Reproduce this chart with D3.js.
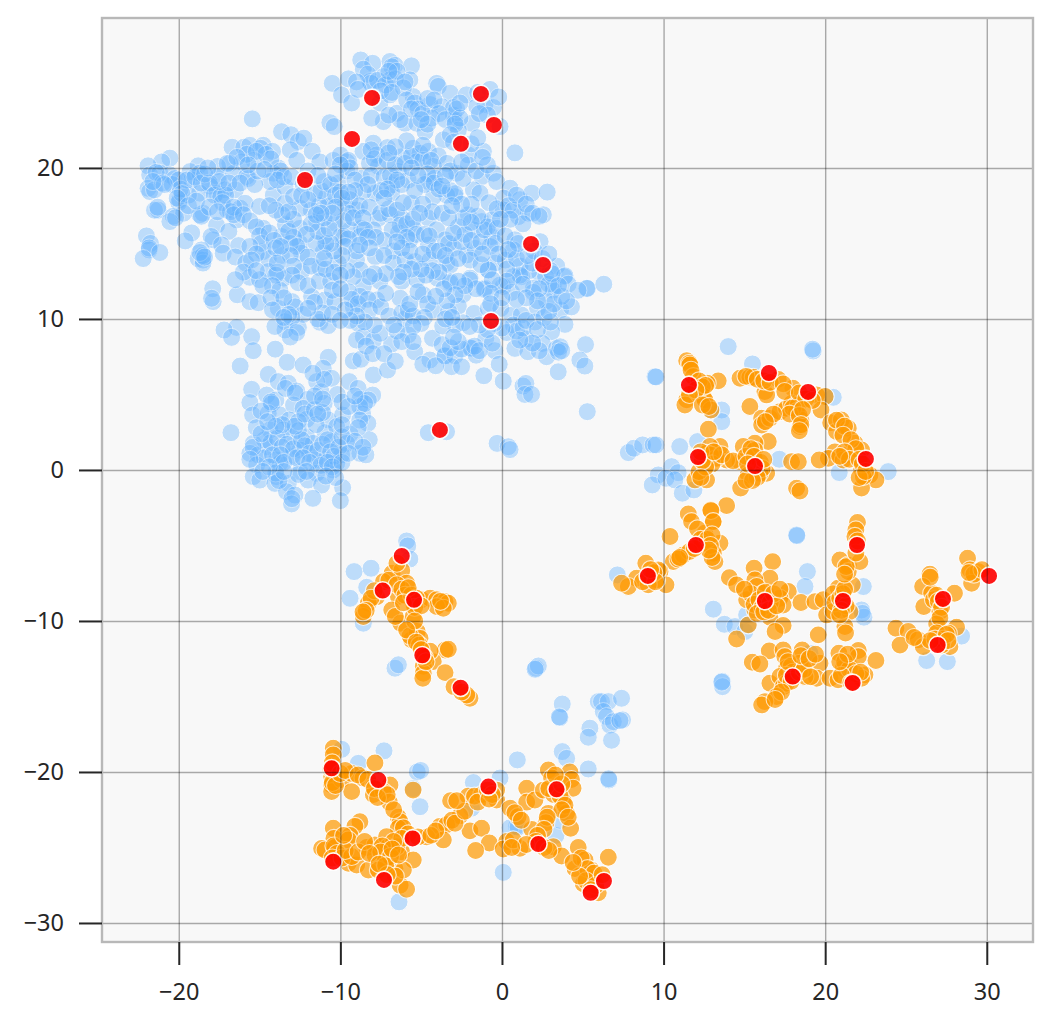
<!DOCTYPE html>
<html>
<head>
<meta charset="utf-8">
<style>
  body { margin: 0; background: #fff; }
  svg { display: block; }
</style>
<script src="https://d3js.org/d3.v7.min.js"></script>
</head>
<body>
<div id="chart"></div>
<script>
// tick labels
var xTicks = [-20, -10, 0, 10, 20, 30];
var yTicks = [-30, -20, -10, 0, 10, 20];

// blue points
var blueWing = [[-15.45,23.25],[-13.64,22.4],[-13.06,22.2],[-12.6,21.75],[-12.26,21.97],[-10.5,25.6],[-10.65,23],[-10.38,22.74],[-9.93,24.84],[-16.7,21.37],[-15.97,21.37],[-15.6,21.5],[-14.77,21.5],[-14.94,21.3],[-14.2,21.1],[-13.1,21.2],[-11.74,21.1],[-11.27,20.4],[-12.7,20.5],[-15.35,20.5],[-16.1,20.4],[-16.84,20.3],[-17.6,20.1],[-18.8,20.14],[-20.55,20.65],[-21.06,20.4],[-21.9,20.14],[-21.8,19.54],[-21.17,19.65],[-20.55,19.54],[-20.24,19.3],[-21.9,18.65],[-21.8,18.44],[-21.5,18.55],[-19.3,19.76],[-19.2,19.2],[-18.7,19.65],[-17.56,19.43],[-16.6,19.65],[-15.8,19.43],[-15.7,19.3],[-18.07,18.8],[-17.66,18.33],[-17.15,18.55],[-18.7,18.33],[-16.5,18.55],[-19.93,17.9],[-20,17.7],[-19.4,18.2],[-21.27,17.2],[-21.5,17.2],[-20.34,16.8],[-19.7,17],[-20.55,16.45],[-18.5,17],[-18.7,16.9],[-17,17.2],[-16.2,17.33],[-15.9,17.66],[-16.4,16.56],[-15,17.45],[-17.66,16.2],[-16.9,15.8],[-19.2,15.7],[-19.6,15.17],[-17.87,15.24],[-18,15.46],[-17.35,14.9],[-22,15.5],[-21.75,15],[-21.83,14.57],[-21.83,14.7],[-21.17,14.4],[-22.2,14],[-16.3,14.86],[-17.25,14.35],[-16.5,14.1],[-15.85,13.7],[-18.6,14.57],[-18.8,14],[-18.5,13.9],[-18.5,13.7],[-14.8,14.46],[-14.46,14],[-13.64,14.2],[-14.46,13.14],[-15.6,12.76],[-15,12.6],[-13.5,12.7],[-12.4,13.14],[-11.27,13.4],[-10.13,13.7],[-14.77,16],[-13.64,15.46],[-12.5,15],[-11.06,14.46],[-12.4,14.35],[-13.4,16.25],[-12.5,16],[-11.47,16.45],[-10.34,16.34],[-10,15.46],[-11.8,17.2],[-10.75,17.45],[-10.85,18.1],[-10.13,19],[-14.15,18.2],[-13.43,18.76],[-13.85,20],[-14.15,19.65],[-14.36,19.1],[-12.5,17.33],[-13.43,17.66],[-9.6,20.4],[-10.44,20.5],[-10,20.85]];

var blueTop = [[-8.74,27.15],[-8,26.93],[-6.93,27.05],[-6.62,26.8],[-5.6,26.76],[-8.58,26.54],[-6.82,26.7],[-9.5,25.9],[-8.16,25.72],[-7.34,26.05],[-6.93,25.83],[-5.7,25.83],[-4.04,25.6],[-3.94,25.4],[-3.2,24.95],[-2.2,24.84],[-0.74,25.2],[-1.05,24.2],[-0.53,24],[-1.56,24.06],[-9.3,24.3],[-7.55,24.3],[-6.93,24.84],[-5.5,24.73],[-4.45,24.2],[-3.73,24.06],[-6.5,23.62],[-7.34,23.07],[-8.06,23.3],[-6,22.96],[-5.28,22.96],[-4.76,22.4],[-4.35,23.3],[-3,23.5],[-2.9,23.07],[-1.87,22.96],[-0.12,22.74],[-3,24],[-2.7,22.5],[-3.63,21.86],[-1.15,21.1],[0.8,21],[-2.08,20.86],[-7.96,21.64],[-7.09,21.35],[-8.6,21.1],[-7.75,20.86],[-9.5,20.5],[-6.2,20.75],[-5.5,21.3],[-5.07,20.97],[-4.55,21.1],[-3.94,20.8],[-5.28,20.4],[-4.24,20.1],[-2.8,19.65],[-2.08,20.2],[-1.25,19.43],[-0.53,19.65],[-7.65,20.1],[-8.68,19.32],[-6.82,18.88],[-5.8,19.2],[-4.55,19.1],[-4.14,19.32],[-6.41,19.76],[-7.85,18.33],[-8.58,18.44],[-6.82,18.33],[-2.9,18.1],[-3.42,18.2],[-4.24,18.1],[-1.77,18.55],[-1.36,18.33],[-0.33,19.1],[0.5,18.66],[0.1,18],[1.12,17.9],[1.84,18.33],[2.8,18.4],[0.09,17.22],[1.02,16.78],[1.63,17],[2.56,16.9],[-5.6,17.66],[-9.7,17.55],[-9,17.22],[-7.65,16.67],[-6.93,16.9],[-6.2,16.67],[-8.68,16],[-9.4,15.9],[-7.96,15.9],[-5.48,16],[-4.56,16.67],[-4.04,15.9],[-2.08,16.9],[-1.25,16.45],[-0.63,16.56],[-0.63,15.46],[-1.77,15.9],[-2.7,16.1],[-6.4,15.7],[-5.7,15.24],[-4.55,14.9],[-3.52,15.24],[-3,14.68],[-2.18,14.24],[-1.67,14.68],[-0.74,14.8],[2.36,15.12],[0.8,15.24],[0.7,14.57],[-9.8,15.46],[-8.78,15.46],[-6.72,14.5],[-7.85,14.13],[-9,13.9],[-8.78,13.25],[-6.72,13.7],[-6,13.9],[-5.38,13.8],[-4.45,13.9],[-3.42,13.7],[-1.97,13.9],[-0.84,13.25],[-0.43,13.7],[0.2,13.9],[1.12,13.5],[1.22,12.8],[2.35,13],[3.39,13.5],[3.84,12.8],[3.18,12.15],[5.24,12.03],[-7.55,12.5],[-8.58,12.15],[-6.2,12.5],[-5.27,12.6],[-4,12.7],[-3.2,12.36],[-1.97,12.7],[-1.05,12.03],[0.07,12.15],[1.94,12.03],[0.7,12.8]];

var blueCentre = [[-17.9,12],[-17.87,11.15],[-17.97,11.37],[-16.38,11.6],[-15.6,11.15],[-15.08,11.08],[-13.74,11.9],[-13.84,10.7],[-13,11.15],[-12.8,10.8],[-11.78,11.48],[-10.95,11.26],[-10.34,11.15],[-9.2,10.8],[-8.79,11.5],[-7.76,11.26],[-6.3,11.37],[-4.87,11.6],[-4.25,10.6],[-13.43,9.82],[-13.43,9.27],[-14.05,9.5],[-12.6,9.44],[-11.26,9.78],[-10.75,9.56],[-8.89,9.7],[-16.42,9.44],[-17.2,9.27],[-16.73,8.78],[-15.49,8.83],[-15.39,7.9],[-14.03,8],[-16.2,6.88],[-13.29,7.13],[-12.3,6.95],[-10.75,7.46],[-11.06,6.73],[-9.2,7.22],[-8.73,7.33],[-8.58,8.83],[-7.96,8.56],[-6.83,8.34],[-7.55,9.05],[-6,10],[-5.8,8.94],[-5.4,7.83],[-4.3,8.72],[-4.46,7.28],[-3.53,7.55],[-7.96,6.29],[-7.08,6.62],[-10.54,6.07],[-3.2,13.57],[-0.85,13.24],[-3.2,12.47],[-2,12.58],[-1.1,11.96],[-2.4,11.63],[-0.13,12.24],[0.6,11.76],[1.1,12.9],[1.94,11.76],[3.17,11.9],[3.9,12.86],[5.28,12.02],[6.3,12.3],[2.76,11.2],[3.63,10.6],[4.3,10.8],[2.2,10.7],[-2.7,10.85],[-3.3,10.5],[-1.72,10.37],[-0.85,10.7],[-0.07,10.7],[0.6,10.26],[1.2,10.26],[0.7,9.6],[2.04,9.8],[3.9,9.64],[3.07,9.15],[-2.4,9.75],[-2.87,9.6],[-3.67,9.53],[1.48,8.67],[-1,8.7],[-2,8.1],[-1.9,8.05],[-0.44,7.9],[0.8,8.05],[1.6,7.83],[2.5,8.38],[2.76,7.5],[3.38,8.05],[3.6,8.16],[5.17,8.3],[-3.53,7.56],[-2.9,7.56],[-1.6,7.6],[-3.12,6.84],[-2.5,6.84],[-0.17,7],[-1.12,6.24],[0.08,5.88],[3.48,6.5],[4.82,7.28],[5.13,6.88],[1.3,5.56],[1.48,5.73],[1.42,5],[1.83,5],[5.28,3.86],[-0.3,1.76],[0.39,1.54],[0.5,1.35]];

var blueLower = [[-14.46,6.33],[-13.84,5.85],[-13.22,5.74],[-11.47,5.85],[-9.45,5.85],[-8.9,5.4],[-15.49,5.34],[-12.7,5.23],[-14.56,4.96],[-11.2,5.18],[-10.19,5],[-15.6,4.46],[-13.99,4.63],[-14.25,4.37],[-12,4.68],[-11,4.41],[-8.79,4.68],[-8,4.96],[-8.27,4.63],[-15.43,3.64],[-14.46,3.75],[-13.74,3.64],[-12.9,4.3],[-12.3,4.08],[-13.16,3.31],[-12.09,3.35],[-10.75,3.31],[-9.86,3.64],[-8.62,3.7],[-8.3,3.09],[-16.77,2.47],[-14.36,2.65],[-13.02,2.2],[-12.09,2.2],[-10.95,2.47],[-10.23,2.87],[-9.4,2.38],[-8.21,2],[-15.39,1.76],[-14.46,1.54],[-13.53,2.65],[-12.5,1.32],[-11.68,1.76],[-10.54,1.87],[-9.6,1.76],[-15.6,1.1],[-15.08,1],[-13.95,0.66],[-13.02,0.88],[-11.57,0.66],[-10.95,0.66],[-9.92,1],[-8.79,1.1],[-8.42,1],[-15.18,0.33],[-13.74,0.44],[-10.23,0.44],[-10.44,0],[-15.39,-0.44],[-14.98,-0.67],[-13.95,-0.44],[-14.05,-0.89],[-12.5,-0.11],[-11.47,-0.22],[-12,-0.67],[-11.16,-1],[-9.86,-1.17],[-10,-2.03],[-13.22,-0.89],[-13.33,-1.44],[-12.81,-1.66],[-13.02,-2.25],[-11.7,-1.88],[-4.56,2.47],[-3.43,2.53]];

var blueRight = [[14,8.17],[15.5,7.02],[19.26,7.88],[19.22,8],[9.47,6.18],[9.53,6.16],[20.5,4.81],[20,4.86],[13.6,3.97],[12.93,3.97],[13.6,3.2],[7.82,1.15],[8.17,1.44],[8.7,1.66],[9.36,1.66],[9.53,1.66],[11,1.55],[12.1,1.88],[17.16,0.71],[20.87,-0.17],[23.9,-0.11],[9.67,-0.33],[10.5,0.22],[10.9,-0.18],[9.3,-0.99],[10.15,-0.55],[10.7,-0.66],[11.16,-1.54],[11.88,-1.32],[18.23,-4.3],[18.25,-4.35],[18.9,-6.73],[18.75,-7.72],[13.08,-9.22],[13.76,-10.22],[14.42,-10.37],[15.03,-10.7],[15.14,-9.6],[15.24,-10.26],[19.06,-12.14],[22.36,-7.72],[22.25,-9.27],[22.4,-9.75],[22.3,-9.5],[28.44,-11],[26.28,-12.62],[27.56,-12.69],[13.63,-14],[13.65,-14.35],[13.6,-14.05],[7.14,-6.95]];

var blueBottom = [[-5.9,-4.7],[-5.83,-5.03],[-5.7,-5.9],[-9.15,-6.73],[-8.1,-6.51],[-8.37,-7.77],[-9.4,-8.5],[-8.58,-10.15],[-6.62,-13.13],[-6.41,-12.9],[2.1,-13.13],[2.25,-12.98],[2.05,-13.2],[3.73,-15.5],[3.59,-16.4],[3.55,-16.35],[5.96,-15.34],[6.16,-15.34],[6.58,-15.34],[7.4,-15.12],[6.27,-16],[6.47,-16.33],[6.68,-16.9],[6.89,-16.67],[7.46,-16.55],[7.3,-16.6],[5.44,-17.1],[5.34,-17.7],[6.78,-17.9],[3.73,-18.65],[4,-19.1],[5.34,-19.8],[6.62,-20.53],[6.6,-20.45],[-9.92,-18.5],[-7.3,-18.6],[-8.89,-19.43],[-5.24,-20],[-5.03,-19.9],[-5.5,-21.1],[-5.07,-22.3],[-6.37,-28.6],[-1.77,-20.7],[-0.12,-20.4],[0.95,-19.2],[0.08,-26.65],[0.9,-23.6],[0.5,-23.7],[1,-23.65],[3.34,-24.2],[3.6,-23.2],[-1.88,-22.4]];

// second pass over the crowded parts of the blue mass
var blueDenseTop = [[-8.3,26.2],[-8.1,25.6],[-7.7,25.8],[-7.2,25.5],[-6.6,25.9],[-6.5,26.4],[-6.1,25.3],[-6,25.7],[-7,26.4],[-7.5,25.1],[-6.8,25],[-5.9,24.5],[-5.4,24.3],[-5.2,23.9],[-5.6,23.9],[-4.9,23.6],[-4.6,24.6],[-4.2,24.5],[-3.9,23.6],[-3.5,23.2],[-2.8,23.9],[-2.6,23.3],[-2.9,22.9],[-4.6,22.9],[-5,23.2],[-6.3,23.2],[-7,23.5],[-9,25.7],[-8.9,25.2]];

var blueDenseBand = [[-9.6,19.8],[-9.4,20],[-9.1,19.2],[-8.2,20.3],[-7.9,20.6],[-8.1,19.5],[-7.3,19.4],[-6.9,19.5],[-7.1,20.5],[-6.6,20.2],[-6,20.3],[-5.6,20.8],[-4.9,20.5],[-4.4,20.5],[-3.4,20.3],[-3.2,19.8],[-2.5,20.4],[-2.4,19.3],[-4.6,19.6],[-4.8,18.9],[-4.2,19],[-3.9,18.6],[-3.2,18.5],[-2.9,18.3],[-6.2,18.9],[-5.4,18.5],[-7.5,18.5],[-8.3,18.9],[-9.1,18.5],[-9.4,17.9],[-8.8,17.5],[-8.2,17.4],[-9.5,17],[-9.8,16.5],[-9.2,16.7],[-8.6,16.7],[-8.5,15.9],[-7.5,17],[-7,17.3],[-6.5,17.2],[-6.3,16.2],[-6.8,15.9],[-5.9,16.3],[-5.5,16.6],[-5.3,15.6],[-4.8,15.6],[-4.5,15.5],[-5.9,15.4],[-7.3,15.2],[-7.8,15.4],[-8.3,15.4],[-9.5,15.3],[-9.7,14.8],[-9,14.5],[-8.2,14.7],[-7.3,14.2],[-6.2,14.7],[-4.2,14.5],[-3.9,14.5],[-3.3,15],[-2.5,15.1],[-2.3,15.6],[-1.9,15.2],[-1.3,15.1],[-1.1,15.9],[-0.9,16.1],[-0.3,16],[-0.4,15],[-1.5,16.8],[-1.9,16.4],[-2.4,16.7],[-3,15.7],[-3.5,14.2],[-2.7,14],[-1.3,13.6],[-1.2,14.3],[-0.2,14.3],[0.3,13.3],[0.9,14],[1.7,13.2],[1.9,13.7],[2.7,12.8],[2.9,12.3],[3,13.2],[2.3,12],[1.3,12.3],[0.3,12.5],[-0.6,12.6],[-0.7,11.7],[-1.6,12],[-2.3,12.2],[-2.7,12.5],[-2.9,11.6],[-3.4,11.2],[-3.6,12],[-3.9,13.1],[-4.3,13.2],[-4.7,12.9],[-5,13.3],[-5.6,13.3],[-6.1,13.1],[-6.4,12.8],[-7.2,13],[-7.9,13],[-8.2,12.8],[-9.2,12.8],[-9.6,13.2],[-9.9,14.2],[-10.4,14.5],[-10.6,15],[-11,15.5],[-10.9,15],[-11.5,15],[-11.4,15.8],[-10.7,16],[-11,16.7],[-11.3,17.5],[-11.8,16.3],[-12.1,15.6],[-12.9,15.4],[-13.1,15],[-13.2,15.8],[-12.9,16.6],[-12.7,14.8],[-13.1,14.2],[-12,14.1],[-11.8,13.5],[-12.9,13.5],[-13,12.9],[-13.9,13.1],[-14,12.9],[-14.2,12.2],[-14.8,12.2],[-14.3,11.4],[-13.5,11.4],[-12.6,12.4],[-12,12.2],[-11.3,12.5],[-10.6,12.5],[-10.5,11.9],[-9.5,11.8],[-9.3,11.3],[-8.9,11],[-8.3,11.3],[-8.2,10.6],[-7.5,10.8],[-7.2,11.7],[-7,10.2],[-6.2,10.4],[-5.8,10.6],[-5.5,10.2],[-5.7,11],[-5.2,11.8],[-4.6,11],[-4.1,11.5],[-3.5,10],[-4.8,10.1],[-5,9.7],[-5.5,9.5],[-6.5,9.2],[-6.7,9.6],[-7.9,9.6],[-8.5,9.8],[-9,10.2],[-9.4,9.9],[-11.1,10.4],[-11.4,10],[-12.3,10.3],[-13,10.1],[-13.2,10.3],[-14.2,10.6],[-13.5,10.1],[-2.5,8],[-1.7,8.2],[-1.4,7.9],[0.3,9.1],[0.9,9.2],[1.3,9.4],[1.5,9.9],[2.6,10.1],[2.2,9.3],[3,9.8],[0,9.4],[2.3,7.9],[3.5,7.8],[3.7,7.9],[2.9,10.5],[3.2,11],[3.7,11.5],[2.2,11.2],[1.5,11.4],[0.9,11.3],[0,11.4],[-0.7,11],[-0.5,9.7]];

var blueDenseWing = [[-21.4,19.7],[-21,19],[-20.4,18.9],[-20,19.2],[-19.9,18.6],[-19.5,19.2],[-19,19.4],[-18.6,19],[-18.4,19.6],[-18.1,19],[-17.8,18.2],[-17.4,18.1],[-17.1,18.2],[-17.3,17.7],[-16.8,17.1],[-16.6,17.4],[-19.8,18.3],[-20.1,18],[-21.3,17.4],[-20.2,16.7],[-18.6,16.8],[-18.5,14.2],[-18.7,14.4],[-18.4,14.1],[-14.6,20.9],[-14.3,20.6],[-15.8,20.9],[-15.2,21.1],[-13.7,19.8],[-13.5,19.4],[-13.9,19.2],[-13,19.4],[-12.3,18.9],[-12,19.8],[-11.6,18.3],[-11.2,18.5],[-11,19.1],[-11.4,19.5],[-10.6,18.9],[-10.3,18.2],[-10,18.4],[-9.9,18],[-10.3,17.4],[-10.5,17],[-11.2,17],[-9.5,18.4],[-10,20.2],[-10.3,19.6]];

var blueDenseLower = [[-14.7,2],[-14.3,1.8],[-13.9,2.1],[-13.6,1.5],[-13.3,1.7],[-12.9,1.4],[-12.6,2.6],[-12.4,2],[-12.2,1.6],[-11.9,1.1],[-11.4,1.3],[-11.1,1.7],[-10.8,2],[-10.6,1.2],[-10.4,0.9],[-10.1,1.5],[-9.9,2.2],[-14.7,0.8],[-14.2,1],[-13.7,1],[-13.5,0.5],[-12.7,0.8],[-12.3,0.8],[-11.9,0.5],[-11.2,0.3],[-10.8,0.5],[-10.5,0.2],[-9.9,0.5],[-9.9,3],[-12.6,3.2],[-12.8,2.9],[-13.6,3],[-14,2.9],[-12.2,3.7],[-11.6,4],[-11.5,3],[-11.1,3.8],[-11.6,4.9],[-11.1,4.7],[-11.4,3.7],[-13.4,5.4],[-12.8,5.1],[-14,-0.2],[-13.8,-0.7],[-12.6,-0.3],[-8.8,4.2],[-8.5,4.4],[-8.8,3.3],[-14.3,4.5],[-15.4,1.5],[-15.6,0.7]];

// third pass, gaps still left after the first two
var blueFillWest = [[-17.5,19.1],[-16.9,19],[-16.2,19],[-15.3,18.9],[-15.1,19.8],[-14.7,19.9],[-17,20.3],[-16.4,20.7],[-15.7,20.2],[-18.2,20],[-20.9,18.9],[-21.6,19.1],[-19.4,17.5],[-18.9,17.8],[-18.1,17.4],[-17.6,17.1],[-16.6,16.9],[-16,16.9],[-15.6,16.5],[-15.2,16.1],[-15,15.5],[-14.9,15],[-14.4,15.7],[-14.1,15.2],[-14,14.7],[-13.7,14.8],[-13.6,16.9],[-14,17.2],[-14.4,17.5],[-13.2,17.1],[-12.9,18.1],[-12.4,18.2],[-12,17.9],[-11.5,16.9],[-15.6,14.8],[-15.2,14.3],[-15.5,13.9],[-16,13.1],[-16.5,12.6],[-15.2,13.2],[-13.9,13.7],[-10.9,13.3],[-10.4,13.1],[-10,12.9],[-11,14],[-10,12],[-11.6,11.1],[-12,10.7],[-9.7,10.6],[-10.5,10.3],[-10,9.9],[-12.7,9.1],[-13.1,8.8],[-9,8.6],[-8.4,8.2],[-8,7.7],[-7.3,7.7],[-6.6,7.2],[-6.2,8.5],[-5.5,8.5],[-3.7,8.3],[-3.2,8.1],[-4.9,7],[-4.1,6.9]];

var blueFillEast = [[-3.2,22.2],[-3,21.7],[-1.9,21.6],[-1.5,22],[-0.9,23.5],[-1.4,23.6],[-0.2,24.7],[-1.5,25],[-2.6,24.3],[-4.9,21.5],[-5.9,21.8],[-6.6,21.4],[-7,21],[-8.1,21.2],[-6.5,19.2],[-7.3,18],[-5.6,20],[-5.2,19.5],[-3.5,19.5],[-3.7,18.8],[-1.6,19.8],[-0.9,20.2],[-1.2,20.7],[-1.9,17.6],[-2.5,17.6],[-0.8,17.7],[-0.3,17.3],[0.4,17.5],[0.7,17.2],[0.9,18.2],[1.5,17.6],[1.9,17],[2.3,16.8],[1.3,16.3],[0.5,16.6],[-0.1,16.6],[0.2,15.5],[-4.9,17.6],[-4.3,17.1],[-3.7,17],[-3.3,16.7],[-3.1,17.5],[-5.1,17],[-6.1,17.7],[-7.1,18.6],[2,14.5],[1.6,14.2],[2.5,14],[2.9,14.3],[3.1,13],[1,15],[0.4,14.6],[-5.7,14.5],[-4.9,14.3],[-6.5,15.1],[-8.8,14.9],[4.1,12.3],[3.5,12.2],[4.7,11.9],[4,11.2],[1.9,8.4],[1.1,8.6],[-0.6,8.4],[-2.7,8.5],[-0.9,9.3],[-1.4,9.6],[-2,9.5],[-3.1,10.1],[-3,8.8]];

var blueFillLower = [[-14.9,3.9],[-15.2,2.8],[-14.9,2.4],[-14.5,3.2],[-11,6],[-11.7,6.4],[-9.9,4.5],[-9.5,4.2],[-9.1,4.9],[-8.9,2.8],[-9.1,1.9],[-8.6,1.5],[-9.5,1.1],[-10.3,-0.5],[-10.9,-0.4],[-12.1,-0.1],[-13.5,-0.1],[-14.4,0.2],[-14.8,-0.1],[-13,-1.9]];

// orange points, one list per cluster
var orangeUpper = [[11.43,7.24],[11.6,7.06],[11.63,6.95],[11.84,6.18],[13.38,5.9],[12.7,5.74],[11.43,4.64],[11.32,4.3],[12.46,4.86],[12.56,4.64],[12.93,3.97],[14.73,6.07],[15.34,6.14],[15.55,6.14],[17.1,6],[18,5.41],[16.27,5.19],[16.38,4.97],[15.34,4.2],[16.07,3.42],[16.07,2.98],[16.58,3.42],[17.2,3.86],[17.61,4.08],[17.92,4.4],[18.34,4.3],[18.23,3.86],[18.5,3.31],[18.44,2.87],[19.47,4.97],[20,4.86],[19.74,3.97],[20.34,3.13],[20.7,2.54],[21,3.31],[21.43,2.76],[12.77,2.7],[21.84,1.77],[22.25,1.33],[21.33,1],[20.6,1.2],[20.2,0.77],[19.63,0.66],[17.92,0.55],[18.34,0.55],[21.12,0.66],[22.25,0],[22.77,-0.33],[23.14,-0.66],[22.25,-1.2],[22.36,-0.44],[16.48,1.88],[15.65,1.77],[14.93,1.55],[15.65,1.3],[14.73,0.55],[13.9,0.66],[13.49,1.55],[12.87,1.55],[12.66,1.1],[13.28,0.77],[16.38,-0.22],[15.96,-0.22],[15.24,-0.33],[14.77,-1.2],[12.66,-0.66],[11.94,-0.66],[12.19,-0.11],[18.23,-1.21],[18.44,-1.39],[13.9,-2.36],[12.91,-2.65],[11.53,-2.91],[11.73,-3.42],[13.08,-3.42],[12.56,-4.19],[22,-3.47],[21.9,-3.97],[21.84,-4.4],[11.7,6.6],[12.2,5.9],[12.4,5.5],[12.6,5.6],[12,5.3],[11.6,5],[12.4,4.3],[12.8,4.2],[15.1,6.2],[15.8,6],[16.2,5.9],[16.6,5.8],[17.4,5.7],[17.5,5.2],[18.4,5.1],[18.8,4.7],[19.2,4.6],[18,4.1],[17.8,3.7],[18.4,3.6],[18.6,4],[16.8,3.7],[16.3,3.2],[18.5,3],[18.4,2.6],[20.7,3.3],[21.2,2.9],[21.1,2.3],[21.6,2],[21.9,1.4],[21.2,1.2],[21.5,0.7],[20.9,0.9],[22.1,0.7],[22.3,0.4],[22.1,-0.5],[22.5,-0.1],[12.9,1],[13,0.4],[12.6,0.2],[12.4,0.6],[12.3,1.2],[13.6,1],[14.3,0.6],[15.1,0.9],[15.4,1.4],[15.6,0.9],[16,0.5],[16.1,0.1],[15.8,-0.5],[15.5,-0.7],[15.1,-0.7],[16.2,0.7],[15.2,0.4],[12.3,-0.5],[13.1,1.2]];

var orangeMiddle = [[10.4,-4.41],[13.49,-4.85],[13.08,-5.52],[13.18,-6.07],[10.6,-6.07],[11.22,-5.63],[9.78,-6.73],[8.9,-6.18],[8.33,-7.17],[7.82,-7.72],[7.4,-7.5],[10.15,-7.61],[9.57,-7.28],[9.05,-7.61],[16.75,-6.07],[15.6,-6.5],[16.58,-7.17],[15.65,-7.28],[14.07,-7.13],[14.52,-7.61],[15.14,-8.6],[15.76,-7.72],[16.17,-8.16],[17.72,-8.05],[17.2,-8.5],[17.4,-8.94],[18.5,-8.78],[19.37,-8.72],[19.88,-8.6],[20.09,-9.6],[20.5,-9.38],[21.53,-9.38],[16.58,-9.75],[17.4,-10.3],[16.9,-10.7],[15.24,-10.26],[14.52,-11.19],[15.65,-9.27],[19.57,-10.92],[21.22,-10.37],[21.26,-10.8],[20.8,-7.83],[21.68,-7.61],[20.91,-5.96],[21.43,-6.29],[21.43,-6.73],[22.15,-6.07],[12.93,-2.69],[13.07,-3.42],[9.67,-6.62],[12.1,-3.9],[12.3,-4.6],[12.4,-4.9],[12.7,-4.6],[13,-4.3],[12.9,-5],[13,-5.8],[12.8,-5.3],[11.6,-5.4],[11.9,-5.2],[10.9,-5.9],[11,-5.8],[8.7,-7.4],[9.4,-6.8],[9.5,-7.4],[9.2,-6.6],[15.4,-8.2],[15.6,-8.9],[15.9,-8.6],[16.1,-9.1],[16.3,-8.1],[16.6,-8.8],[16.8,-8.2],[15.8,-9.5],[16.2,-9.4],[16.5,-9.3],[17,-9],[15,-7.9],[20.5,-8.2],[20.6,-8.8],[20.9,-8.5],[21.1,-8.2],[21.3,-9],[21,-9.3],[20.9,-9.6],[21.2,-7.9],[21.3,-6.4],[21.2,-6.9],[21.9,-5.5],[22,-4.7],[17.2,-7.9]];

var orangeLowerRight = [[16.54,-11.98],[17.4,-11.92],[15.49,-12.73],[15.96,-12.85],[18.58,-11.92],[17.5,-12.36],[18.44,-12.8],[19.68,-12.8],[20.85,-12.14],[22.05,-11.96],[23.14,-12.62],[21.43,-12.8],[21.12,-13.13],[22.05,-12.36],[17.61,-13.13],[19.47,-13.79],[18.75,-13.68],[20.3,-13.79],[20.8,-13.9],[22.46,-13.57],[22.25,-13.79],[16.58,-14.12],[17.2,-13.68],[17.4,-14.35],[17.61,-14.12],[17,-15],[16.27,-15.34],[16.07,-15.56],[17.9,-13],[18,-13.4],[17.6,-13.6],[17.9,-14],[18.4,-13.4],[18.7,-13.2],[19.1,-13.7],[17.3,-14.7],[16.9,-15.2],[17.7,-12.7],[18.5,-12.3],[19,-12.5],[19.4,-12.2],[21.2,-12.7],[21.5,-13.2],[21.9,-13.5],[21,-13.6],[21.4,-12.2],[20.9,-12.7],[21.6,-14.1],[22.2,-13.4]];

var orangeFarRight = [[26.48,-6.9],[26.03,-7.72],[26.59,-8.16],[28,-8.16],[26.1,-9.05],[27.1,-9.38],[26.9,-10.2],[28.13,-10.42],[27.62,-10.81],[24.38,-10.48],[25.14,-10.7],[25.76,-11.25],[24.63,-11.6],[26.07,-11.7],[27.72,-11.7],[28.81,-5.85],[28.96,-6.62],[29.47,-6.73],[29.06,-7.5],[26.7,-8.6],[26.9,-8.3],[27,-8.7],[27.2,-9.1],[27.1,-9.8],[26.9,-10.8],[27.3,-11.2],[26.8,-11.2],[27.2,-11.6],[27.5,-10.9],[26.5,-11.3],[25.5,-11.1],[27.6,-11.3],[29.2,-6.9],[29.7,-6.6],[28.9,-6.8],[26.5,-7.1]];

var orangeArrow = [[-6.8,-6.84],[-6.2,-6.66],[-6.5,-6.18],[-5.9,-7.5],[-7.34,-7.4],[-7.75,-8.4],[-8.27,-8.83],[-8.58,-9.7],[-6.41,-8.38],[-6.82,-9.27],[-6.27,-10.15],[-5.48,-9.67],[-4.97,-8.6],[-4.45,-8.5],[-4.04,-8.6],[-3.52,-8.72],[-3.32,-8.83],[-4.04,-9.05],[-3.63,-9.16],[-5.6,-11.25],[-5.24,-10.7],[-5.07,-11.15],[-5.69,-11],[-5.11,-11.6],[-3.52,-11.92],[-3.32,-11.87],[-4.25,-12.69],[-4.45,-12],[-4.87,-13],[-4.87,-13.46],[-4.9,-13.8],[-3.52,-13.42],[-2.97,-14.35],[-1.98,-15.12],[-2.18,-14.9],[-5.48,-8.83],[-7,-7.3],[-6.5,-7.6],[-6.2,-7.9],[-7.9,-8],[-8.1,-8.5],[-8.4,-9.3],[-8.6,-9.4],[-6,-8.3],[-5.6,-8.3],[-5.3,-8.5],[-5.8,-7.8],[-5.4,-9.1],[-5,-9],[-3.8,-8.7],[-5.4,-10],[-5.9,-10.6],[-5.3,-11.4],[-5,-11.9],[-4.8,-12.4],[-4.7,-12.7],[-6.6,-9.7],[-6.1,-8.8],[-2.5,-14.7]];

var orangeBottom = [[-10.44,-18.43],[-10.44,-18.88],[-10.54,-20.3],[-10.54,-20.86],[-10.54,-21.3],[-9.92,-20.5],[-9.3,-20.1],[-9.3,-21.3],[-8.6,-20.4],[-7.86,-19.4],[-7.96,-20.97],[-7.96,-21.5],[-6.93,-20.86],[-7.34,-21.3],[-6.97,-22],[-6.42,-23],[-6.3,-23.3],[-6.42,-23.73],[-5.5,-21.2],[-3.18,-21.9],[-2.1,-21.6],[-1.26,-21.5],[-0.33,-21.86],[-0.33,-21.2],[-2.6,-22.9],[-3.84,-23.6],[-3.42,-23.5],[-4.66,-24.3],[-3.63,-24.5],[-1.98,-23.9],[-1.26,-23.73],[-0.78,-24.7],[-1.63,-25.2],[0.5,-22.4],[1,-22.96],[1.53,-21.08],[1.53,-22],[2.04,-21.86],[2.87,-19.87],[4.2,-20],[4.3,-20.5],[3.07,-20.4],[2.56,-21.2],[4.4,-21.08],[3.8,-21.96],[4,-22.74],[2.87,-22.74],[2.72,-23.36],[4.25,-23.73],[1.84,-23.8],[0.29,-24.6],[0.08,-25.1],[1.11,-25.06],[0.7,-24.5],[3.18,-24.95],[3.69,-25.56],[4.72,-25],[4.52,-26.4],[5.14,-25.83],[5.55,-26.5],[5.65,-27],[6.58,-25.65],[5.96,-28],[5.03,-27.4],[-10.44,-23.73],[-10.4,-24.4],[-8.79,-23.3],[-9.1,-23.6],[-9.4,-24.2],[-9.5,-24.5],[-11.16,-25.06],[-10.95,-25.17],[-10.33,-25],[-9.5,-26.05],[-8.99,-26.16],[-8.37,-25],[-8.27,-26.5],[-7.86,-24.84],[-7.86,-25.5],[-7.14,-24.28],[-7.03,-24.95],[-7.24,-25.83],[-6.62,-26.4],[-6.21,-25.28],[-5.49,-25.83],[-6.3,-27.5],[-5.9,-27.77],[-6.1,-26.5],[-7.65,-26.5],[-6.52,-24.95],[-10.6,-19.8],[-10.5,-19.4],[-10.5,-20.7],[-10.3,-20.9],[-10,-20.1],[-9.7,-19.9],[-8.9,-20.2],[-8.3,-20.5],[-7.9,-21.1],[-7.7,-21.7],[-7.1,-21.5],[-6.7,-22.5],[-6.1,-23.7],[-5.8,-24.1],[-6.2,-24.4],[-6.7,-24.6],[-7.4,-24.9],[-7.5,-25.3],[-6.9,-25.6],[-7.2,-26.2],[-6.8,-25.1],[-6.4,-25.5],[-6.6,-26.9],[-7.1,-26.8],[-10.4,-24.9],[-10.2,-25.4],[-10.5,-25.7],[-9.9,-25.7],[-9.3,-25.6],[-9.7,-25.2],[-9.8,-24.2],[-8.9,-25.3],[-8.5,-24.6],[-8.2,-25.4],[-7.6,-26.1],[-5.2,-24.3],[-4.4,-24.2],[-4.1,-23.9],[-3.1,-23.2],[-2.9,-23.4],[-2.3,-22.6],[-2.8,-21.9],[-1.7,-21.6],[-1.5,-22],[-0.9,-21.2],[-0.6,-21.5],[-0.8,-21.8],[0.8,-22.7],[1.2,-23.2],[3.2,-21.5],[2.9,-21.1],[3.6,-21.6],[3.7,-20.8],[3.3,-20.2],[3.9,-22.2],[3.7,-22.5],[4.1,-23],[2.8,-23],[2.6,-23.8],[2.2,-24.2],[2.1,-24.6],[2.6,-25],[2.9,-25.2],[1.5,-24.8],[0.6,-25],[4.9,-25.7],[5.3,-26.4],[5.7,-26.7],[5.2,-27.2],[5.8,-27.5],[6.2,-26.8],[5.5,-27.8],[4.8,-26.9],[4.4,-26]];

var redPoints = [[-8.04,24.64],[-1.3,24.9],[-0.5,22.85],[-2.54,21.6],[-9.28,21.92],[-12.19,19.2],[1.8,14.97],[2.54,13.58],[-0.68,9.87],[-3.84,2.65],[11.57,5.63],[16.52,6.42],[18.94,5.17],[22.52,0.73],[12.13,0.86],[15.66,0.26],[12,-4.97],[21.97,-4.97],[9.03,-7.02],[16.27,-8.68],[21.1,-8.68],[30.14,-7.02],[27.29,-8.54],[26.96,-11.59],[17.99,-13.68],[21.7,-14.1],[-6.2,-5.69],[-7.38,-7.99],[-5.44,-8.6],[-4.93,-12.27],[-2.56,-14.42],[-10.54,-19.76],[-7.65,-20.53],[-0.84,-20.97],[3.38,-21.15],[-5.53,-24.4],[2.25,-24.77],[-10.44,-25.94],[-7.3,-27.15],[5.49,-28],[6.31,-27.22]];

// set the dimensions and margins of the graph
var margin = { top: 18, right: 19, bottom: 82, left: 102 },
  width = 1052 - margin.left - margin.right,
  height = 1024 - margin.top - margin.bottom;

var svg = d3
  .select("#chart")
  .append("svg")
  .attr("width", width + margin.left + margin.right)
  .attr("height", height + margin.top + margin.bottom)
  .append("g")
  .attr("transform", "translate(" + margin.left + "," + margin.top + ")");

var x = d3.scaleLinear().domain([-24.75, 32.86]).range([0, width]);
var y = d3.scaleLinear().domain([-31.26, 29.93]).range([height, 0]);

svg
  .append("rect")
  .attr("width", width)
  .attr("height", height)
  .attr("fill", "#f8f8f8");

function drawPoints(data, color, alpha, radius, edge) {
  svg
    .append("g")
    .selectAll("circle")
    .data(data)
    .enter()
    .append("circle")
    .attr("cx", function (d) {
      return x(d[0]);
    })
    .attr("cy", function (d) {
      return y(d[1]);
    })
    .attr("r", radius)
    .attr("fill", color)
    .attr("stroke", "#fff")
    .attr("stroke-width", edge)
    .attr("opacity", alpha);
}

var blue = blueWing.concat(blueTop, blueCentre, blueLower, blueRight, blueBottom, blueDenseTop, blueDenseBand, blueDenseWing, blueDenseLower, blueFillWest, blueFillEast, blueFillLower);
var orange = orangeUpper.concat(orangeMiddle, orangeLowerRight, orangeFarRight, orangeArrow, orangeBottom);

drawPoints(blue, "#66b3ff", 0.4, 9, 1);
drawPoints(orange, "#ff9900", 0.7, 9, 1.1);
drawPoints(redPoints, "#ff0000", 0.9, 8.8, 1.6);

// grid sits on top of the points
var gridX = svg
  .append("g")
  .attr("transform", "translate(0," + height + ")")
  .call(d3.axisBottom(x).tickValues(xTicks).tickSize(-height).tickFormat(""));
var gridY = svg.append("g").call(d3.axisLeft(y).tickValues(yTicks).tickSize(-width).tickFormat(""));
[gridX, gridY].forEach(function (g) {
  g.select(".domain").remove();
  g.selectAll("line").attr("stroke", "#000").attr("stroke-opacity", 0.32).attr("stroke-width", 1.4);
});

// spines
svg
  .append("rect")
  .attr("width", width)
  .attr("height", height)
  .attr("fill", "none")
  .attr("stroke", "#b8b8b8")
  .attr("stroke-width", 2.4);

// axes with long outer ticks
var axisX = svg
  .append("g")
  .attr("transform", "translate(0," + height + ")")
  .call(d3.axisBottom(x).tickValues(xTicks).tickSize(23).tickPadding(18));
var axisY = svg.append("g").call(d3.axisLeft(y).tickValues(yTicks).tickSize(23).tickPadding(15));
[axisX, axisY].forEach(function (g) {
  g.select(".domain").remove();
  g.selectAll("line").attr("stroke", "#262626").attr("stroke-width", 2);
  g.selectAll("text")
    .attr("fill", "#262626")
    .style("font-family", "'Noto Sans'")
    .style("font-size", "23.5px");
});
</script>
</body>
</html>
